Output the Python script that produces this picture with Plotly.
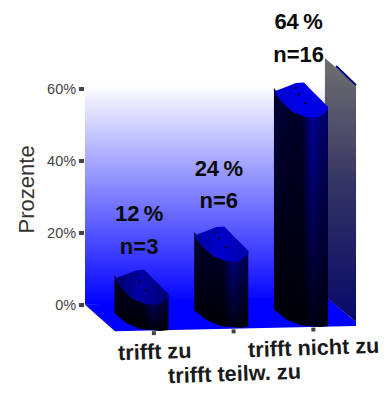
import numpy as np
import plotly.graph_objects as go

# Survey result
categories = ["trifft zu", "trifft teilw. zu", "trifft nicht zu"]
percent = [12, 24, 64]
counts = [3, 6, 16]
y_ticks = [0, 20, 40, 60]

# Style of each column and where its labels sit
body_shade = [0.62, 0.85, 1.0]
top_shade = [0.72, 0.88, 1.0]
base_shift = [-1.1, -0.2, 0.0]
label_y = [-13.1, -19.2, -11.75]
percent_lift = [12.9, 13.3, 14.1]
count_lift = [3.5, 4.4, 4.9]

FONT = "Liberation Sans"
HALF_WIDTH = 0.339
X_RANGE = [-0.7085, 3.066]
Y_RANGE = [-24.8, 84.64]

# Outline of a column, u runs across it from -1 to 1
TOP_U = [-1, -0.56, -0.19, 0.11, 0.43, 0.74, 1]
TOP_UPPER = [-4.8, -3.5, -2.4, -2.3, -4.8, -7.1, -9.1]
FRONT_U = [-1, -0.68, -0.31, 0.19, 0.67, 1]
FRONT_EDGE = [-4.8, -8, -10.5, -11.9, -11.9, -9.9]
BASE_U = [-1, -0.56, -0.07, 0.67, 1]
BASE_EDGE = [-1.2, -4, -5.6, -6.2, -5.9]
SHINE_U = [-1, -0.5, 0, 0.3, 0.45, 0.6, 1]
SHINE = [60, 45, 40, 110, 165, 120, 100]
SPECKS = [(-0.2, -3.8), (-0.08, -5.6), (0.16, -8.0)]


def blue(level):
    return f"rgb(0,0,{int(round(min(level, 255)))})"


fig = go.Figure()


def polygon(xs, ys, gradient):
    fig.add_trace(go.Scatter(x=xs, y=ys, mode="none", fill="toself",
                             fillgradient=gradient, hoverinfo="skip",
                             showlegend=False))


# Back wall, fading from blue at the floor to white at its top
polygon([X_RANGE[0], 2.30, 2.30, X_RANGE[0]], [0, 0, 61, 61],
        dict(type="vertical", start=0, stop=61,
             colorscale=[[0, "rgb(0,0,255)"], [1, "rgb(255,255,255)"]]))

# Floor
fig.add_trace(go.Scatter(x=[X_RANGE[0], -0.333, 2.69, 2.69, 2.34, 1.0, X_RANGE[0]],
                         y=[0, -7.4, -5.9, -4.8, 1.8, 1.8, 0],
                         mode="none", fill="toself", fillcolor="rgb(0,0,255)",
                         hoverinfo="skip", showlegend=False))

# Right side wall
polygon([2.30, 2.69, 2.69, 2.30], [68.5, 61, -4.8, 2.4],
        dict(type="vertical", start=-4.8, stop=68.5,
             colorscale=[[0, "rgb(8,8,105)"], [0.5, "rgb(50,50,100)"],
                         [1, "rgb(112,112,112)"]]))
fig.add_trace(go.Scatter(x=[2.44, 2.69], y=[66.3, 61], mode="lines",
                         line=dict(color="#000080", width=2),
                         hoverinfo="skip", showlegend=False))

# Columns: narrow strips give the shading across and along the cylinder
N_STRIPS = 27
edges = np.linspace(-1, 1, N_STRIPS + 1)
for i, value in enumerate(percent):
    for u0, u1 in zip(edges[:-1], edges[1:]):
        um = (u0 + u1) / 2
        u_next = min(u1 + 0.03, 1)
        level = np.interp(um, SHINE_U, SHINE) * body_shade[i]
        xs = [i + HALF_WIDTH * u0, i + HALF_WIDTH * u_next,
              i + HALF_WIDTH * u_next, i + HALF_WIDTH * u0]
        bottom = [np.interp(u, BASE_U, BASE_EDGE) + base_shift[i] for u in (u0, u_next)]
        top = [value + np.interp(u, FRONT_U, FRONT_EDGE) + 1 for u in (u0, u_next)]
        polygon(xs, [bottom[0], bottom[1], top[1], top[0]],
                dict(type="vertical", start=min(bottom), stop=max(top),
                     colorscale=[[0, blue(level * 0.14)], [1, blue(level)]]))

    # Slanted top face
    upper_u = np.array(TOP_U)
    front_u = np.array(FRONT_U)[::-1]
    xs = np.r_[i + HALF_WIDTH * upper_u, i + HALF_WIDTH * front_u]
    ys = np.r_[value + np.array(TOP_UPPER), value + np.array(FRONT_EDGE)[::-1]]
    s = top_shade[i]
    polygon(list(xs), list(ys),
            dict(type="horizontal", start=i - HALF_WIDTH, stop=i + HALF_WIDTH,
                 colorscale=[[0, blue(205 * s * s)], [0.5, blue(232 * s)],
                             [1, blue(222 * s * s)]]))

    fig.add_trace(go.Scatter(
        x=[i + HALF_WIDTH * u for u, _ in SPECKS],
        y=[value + d for _, d in SPECKS],
        mode="markers", marker=dict(symbol="square", size=2, color="#000020"),
        hoverinfo="skip", showlegend=False))

# Value labels above the columns
positions = [i - 0.03 for i in range(len(percent))]
fig.add_trace(go.Scatter(
    x=positions, y=[v + d for v, d in zip(percent, percent_lift)], mode="text",
    text=[f"{v}\u2009%" for v in percent], textposition="middle center",
    textfont=dict(family=FONT, size=22, color="#0a0a0a", weight="bold"),
    hoverinfo="skip", showlegend=False, cliponaxis=False))
fig.add_trace(go.Scatter(
    x=positions, y=[v + d for v, d in zip(percent, count_lift)], mode="text",
    text=[f"n={n}" for n in counts], textposition="middle center",
    textfont=dict(family=FONT, size=22, color="#0a0a0a", weight="bold"),
    hoverinfo="skip", showlegend=False, cliponaxis=False))

# Tick marks on the front edge of the floor
fig.add_trace(go.Scatter(
    x=[i + 0.155 for i in range(len(categories))],
    y=[-7.9 + 0.5 * i for i in range(len(categories))],
    mode="markers", marker=dict(symbol="square", size=4, color="#444444"),
    hoverinfo="skip", showlegend=False))

annotations = [
    dict(x=i + 0.16, y=label_y[i], text=f"<b>{name}</b>", showarrow=False,
         textangle=-2, font=dict(family=FONT, size=21.7, color="#1a1a1a"))
    for i, name in enumerate(categories)
]
annotations.append(dict(xref="paper", x=-0.193, xanchor="center", yref="y", y=32,
                        yanchor="middle", text="Prozente", showarrow=False,
                        textangle=-90,
                        font=dict(family=FONT, size=22, color="#333333")))

fig.update_layout(
    width=386, height=394, autosize=False,
    margin=dict(l=85, r=0, t=0, b=0),
    paper_bgcolor="white", plot_bgcolor="white",
    hovermode=False, showlegend=False,
    annotations=annotations,
    xaxis=dict(range=X_RANGE, visible=False, fixedrange=True),
    yaxis=dict(range=Y_RANGE, tickvals=y_ticks,
               ticktext=[f"{t}%" for t in y_ticks],
               ticks="outside", ticklen=5, tickwidth=4, tickcolor="#444444",
               showgrid=False, zeroline=False, showline=False, fixedrange=True,
               tickfont=dict(family=FONT, size=14.5, color="#444444")),
)

fig.write_html("out.html", config={"displayModeBar": False})
